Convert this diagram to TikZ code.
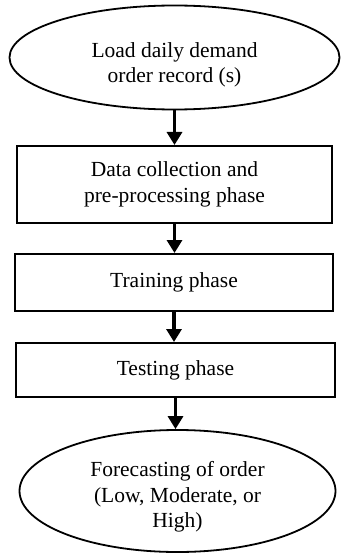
\documentclass[tikz,border=0pt]{standalone}
\usepackage{fontspec}
\setmainfont{Liberation Serif}
\usetikzlibrary{arrows.meta,shapes.geometric}
\begin{document}
\begin{tikzpicture}[x=1pt,y=-1pt,
  every node/.style={font=\fontsize{21.5}{25.5}\selectfont, align=center},
  ell/.style={draw, ellipse, line width=1.8pt, inner sep=0pt},
  stepbox/.style={draw, rectangle, line width=2pt, inner sep=0pt},
  arr/.style={line width=3.3pt, -{Triangle[width=15pt,length=13pt]}}]
\useasboundingbox (0,0) rectangle (341,556);
% start ellipse
\node[ell, minimum width=330pt, minimum height=104pt] (start) at (174.5,57.5) {};
\node (starttext) at (174.5,65) {Load daily demand\\order record (s)};
% boxes
\node[stepbox, minimum width=315pt, minimum height=77pt] (box1) at (174.5,184.5)
  {Data collection and\\pre-processing phase};
\node[stepbox, minimum width=318pt, minimum height=57pt] (box2) at (174,282.5)
  {Training phase};
\node[stepbox, minimum width=319pt, minimum height=54pt] (box3) at (175.5,370)
  {Testing phase};
% end ellipse
\node[ell, minimum width=316pt, minimum height=122pt] (end) at (177.5,491) {};
\node (endtext) at (177.5,497) {Forecasting of order\\(Low, Moderate, or\\High)};
% arrows
\draw[arr] (start) -- (start |- box1.north);
\draw[arr] (box1) -- (box1 |- box2.north);
\draw[arr] (box2) -- (box2 |- box3.north);
\draw[arr] (box3) -- (box3 |- end.north);
\end{tikzpicture}
\end{document}
